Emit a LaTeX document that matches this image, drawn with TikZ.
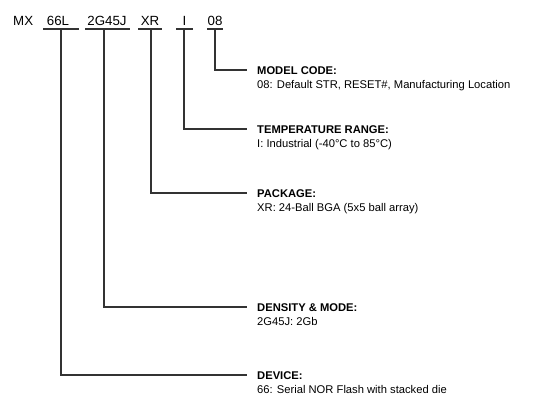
\documentclass[tikz,border=0pt]{standalone}
\usepackage{fontspec}
\setmainfont{Liberation Sans}
\begin{document}
\begin{tikzpicture}[x=1pt,y=-1pt,
  code/.style={anchor=base,inner sep=0pt,font=\fontsize{13.3}{15}\selectfont},
  head/.style={anchor=base west,inner sep=0pt,font=\fontsize{11.2}{13}\selectfont\bfseries},
  desc/.style={anchor=base west,inner sep=0pt,font=\fontsize{11.2}{13}\selectfont},
  ln/.style={line width=1.1pt,draw=black!80}]
\useasboundingbox (0,0) rectangle (537,418);
% header codes
\node[code,anchor=base west] (mx) at (13,25) {MX};
\node[code] (c66) at (58,25) {66L};
\node[code] (c2g) at (107,25) {2G45J};
\node[code] (cxr) at (150,25) {XR};
\node[code] (ci) at (184.5,25) {I};
\node[code] (c08) at (215,25) {08};
% underline ends
\coordinate (a66) at (43,29); \coordinate (b66) at (79,29); \coordinate (v66) at (61,29);
\coordinate (a2g) at (85,29); \coordinate (b2g) at (130,29); \coordinate (v2g) at (104,29);
\coordinate (axr) at (138,29); \coordinate (bxr) at (162,29); \coordinate (vxr) at (151,29);
\coordinate (ai) at (176,29); \coordinate (bi) at (193,29); \coordinate (vi) at (184,29);
\coordinate (a08) at (207,29); \coordinate (b08) at (223,29); \coordinate (v08) at (215,29);
\foreach \k in {66,2g,xr,i,08} {\draw[ln] (a\k) -- (b\k);}
% labels
\node[head] (h08) at (257,74) {MODEL CODE:};
\node[desc] (d08) at (257,88.5) {08: Default STR, RESET\#, Manufacturing Location};
\node[head] (hi) at (257,133) {TEMPERATURE RANGE:};
\node[desc] (di) at (257,147.5) {I: Industrial (-40°C to 85°C)};
\node[head] (hxr) at (257,197) {PACKAGE:};
\node[desc] (dxr) at (257,211.5) {XR: 24-Ball BGA (5x5 ball array)};
\node[head] (h2g) at (257,311) {DENSITY \& MODE:};
\node[desc] (d2g) at (257,325.5) {2G45J: 2Gb};
\node[head] (h66) at (257,379) {DEVICE:};
\node[desc] (d66) at (257,393.5) {66: Serial NOR Flash with stacked die};
% line ends
\coordinate (e08) at (247,70);
\coordinate (ei) at (247,129);
\coordinate (exr) at (247,193);
\coordinate (e2g) at (247,307);
\coordinate (e66) at (247,375);
\foreach \k in {66,2g,xr,i,08} {\draw[ln] (v\k) -- (v\k |- e\k) -- (e\k);}
\end{tikzpicture}
\end{document}
